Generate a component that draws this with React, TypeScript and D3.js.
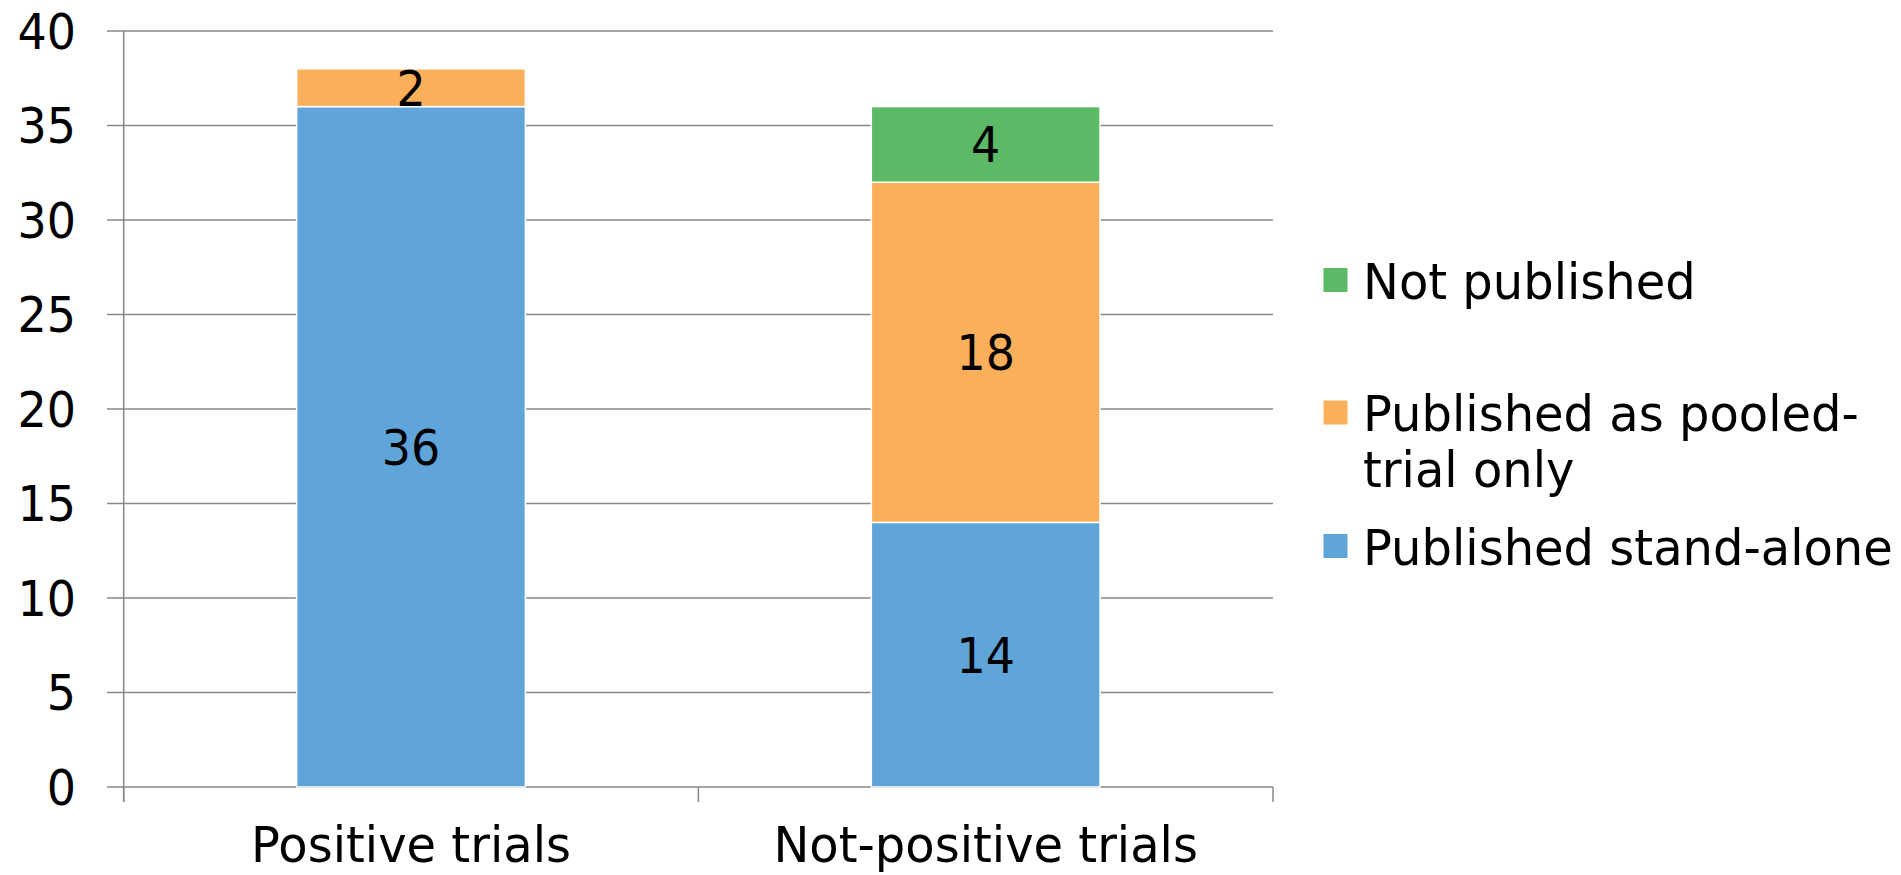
import React from "react";
import * as d3 from "d3";

const categories = ["Positive trials", "Not-positive trials"];
const seriesNames = ["Published stand-alone", "Published as pooled-trial only", "Not published"];
const standAlone = [36, 14];
const pooledOnly = [2, 18];
const notPublished = [0, 4];
const yTicks = [0, 5, 10, 15, 20, 25, 30, 35, 40];
const legendLines = [["Not published"], ["Published as pooled-", "trial only"], ["Published stand-alone"]];
const colors = ["#5FA5DA", "#FAB05A", "#5CB965"];

const W = 1901;
const H = 875;
const FONT = "'DejaVu Sans', Verdana, sans-serif";
const FS = 46;
const VS = 1.07;
const FS_T = 48;
const VS_T = 1.03;

export default function App() {
  const left = 123.7;
  const right = 1273;
  const top = 31;
  const bottom = 787;

  const x = d3.scaleBand<string>().domain(categories).range([left, right]).padding(0);
  const y = d3.scaleLinear().domain([0, 40]).range([bottom, top]);
  const barW = x.bandwidth() * 0.398;

  const rows = categories.map((c, i) => ({
    cat: c,
    s0: standAlone[i],
    s1: pooledOnly[i],
    s2: notPublished[i],
  }));
  const stack = d3.stack<any>().keys(["s0", "s1", "s2"]);
  const layers = stack(rows);

  const catTicks = [left, ...categories.map((c) => (x(c) as number) + x.bandwidth())];

  const txt = (key: string, tx: number, ty: number, s: string, anchor: string = "middle", size = FS, vs = VS) => (
    <text
      key={key}
      transform={`translate(${tx},${ty}) scale(1,${vs})`}
      textAnchor={anchor}
      fontFamily={FONT}
      fontSize={size}
      fill="#000"
    >
      {s}
    </text>
  );

  const legendY = [280, 412.5, 546];
  const legendX = 1323.5;

  return (
    <svg
      width={W}
      height={H}
      style={{ position: "absolute", left: 0, top: 0, display: "block", background: "#fff" }}
    >
      {/* gridlines */}
      {yTicks.map((t) => (
        <line key={"g" + t} x1={107} x2={right} y1={y(t)} y2={y(t)} stroke="#888" strokeWidth={1.5} />
      ))}
      {/* y axis */}
      <line x1={left} x2={left} y1={top} y2={bottom + 15} stroke="#888" strokeWidth={1.5} />
      {catTicks.map((t, i) => (
        <line key={"ct" + i} x1={t} x2={t} y1={bottom} y2={bottom + 15} stroke="#888" strokeWidth={1.5} />
      ))}
      {/* bars */}
      {layers.map((layer, li) =>
        layer.map((d, i) => {
          const v = d[1] - d[0];
          if (v <= 0) return null;
          const cx = (x(categories[i]) as number) + x.bandwidth() / 2;
          return (
            <rect
              key={`b${li}-${i}`}
              x={cx - barW / 2}
              y={y(d[1])}
              width={barW}
              height={y(d[0]) - y(d[1])}
              fill={colors[li]}
              stroke="#fff"
              strokeWidth={1.5}
            />
          );
        })
      )}
      {/* data labels */}
      {layers.map((layer, li) =>
        layer.map((d, i) => {
          const v = d[1] - d[0];
          if (v <= 0) return null;
          const cx = (x(categories[i]) as number) + x.bandwidth() / 2;
          const cy = y((d[0] + d[1]) / 2);
          return txt(`l${li}-${i}`, cx, cy + 0.365 * FS * VS, String(v));
        })
      )}
      {/* y tick labels */}
      {yTicks.map((t) => txt("yt" + t, 76, y(t) + 0.365 * FS * VS, String(t), "end"))}
      {/* x labels */}
      {categories.map((c) =>
        txt("xl" + c, (x(c) as number) + x.bandwidth() / 2, 862, c, "middle", FS_T, VS_T)
      )}
      {/* legend */}
      {legendLines.map((lines, i) => {
        const colorIdx = 2 - i;
        const cy = legendY[i];
        return (
          <g key={"lg" + i}>
            <rect x={legendX} y={cy - 12} width={24} height={24} fill={colors[colorIdx]} />
            {lines.map((ln, j) =>
              txt(`lt${i}-${j}`, 1363, cy + 18.5 + j * 56, ln, "start", FS_T, VS_T)
            )}
          </g>
        );
      })}
    </svg>
  );
}
